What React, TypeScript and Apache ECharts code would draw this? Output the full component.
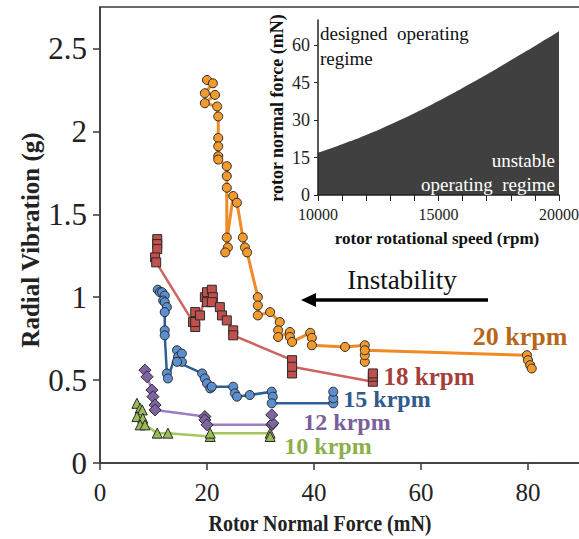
import React, { useEffect, useRef } from "react";
import * as echarts from "echarts";

const FONT = "'Liberation Serif', 'Times New Roman', serif";

// Main chart: rotor normal force (mN) vs radial vibration (g)
const xTicks = [0, 20, 40, 60, 80];
const yTicks = [0, 0.5, 1, 1.5, 2, 2.5];

const krpm20: [number, number][] = [
  [20.0, 2.31], [21.1, 2.29], [19.6, 2.23], [21.5, 2.22], [19.6, 2.17], [21.9, 2.15],
  [22.1, 2.09], [22.1, 1.96], [22.1, 1.91], [22.1, 1.85], [22.1, 1.83],
  [23.7, 1.79], [23.7, 1.73], [23.7, 1.66], [23.7, 1.36], [23.9, 1.30], [23.4, 1.27],
  [24.9, 1.61], [25.6, 1.57], [26.7, 1.36], [27.1, 1.30], [27.5, 1.27],
  [29.5, 1.00], [29.5, 0.95], [29.5, 0.89], [31.8, 0.91], [33.6, 0.85], [33.3, 0.80],
  [33.3, 0.76], [35.5, 0.79], [35.5, 0.76], [35.9, 0.73], [39.3, 0.785], [39.6, 0.755],
  [39.6, 0.71], [45.8, 0.70], [49.5, 0.71], [49.5, 0.61], [49.5, 0.65], [49.5, 0.68],
  [79.8, 0.65], [80.0, 0.62], [80.4, 0.59], [80.7, 0.57],
];

const krpm18: [number, number][] = [
  [10.7, 1.35], [10.7, 1.32], [10.7, 1.29], [10.3, 1.24], [10.5, 1.21],
  [17.4, 0.85], [17.8, 0.82], [17.8, 0.85], [17.8, 0.91], [18.7, 0.89],
  [19.6, 1.00], [20.0, 0.97], [20.0, 1.03], [20.9, 1.045], [21.1, 1.00], [20.9, 0.97],
  [22.4, 0.94], [22.8, 0.89], [23.7, 0.86], [24.9, 0.80], [24.9, 0.77],
  [35.9, 0.62], [35.9, 0.54], [35.9, 0.58],
  [51.0, 0.49], [51.0, 0.52], [51.0, 0.54],
];

const krpm15: [number, number][] = [
  [10.8, 1.045], [11.2, 1.03], [11.6, 1.03], [12.1, 1.01], [11.8, 0.98], [12.1, 0.97],
  [12.5, 0.94], [12.1, 0.91], [12.1, 0.80], [12.1, 0.77], [12.5, 0.54], [12.7, 0.51],
  [14.4, 0.68], [14.6, 0.64], [15.3, 0.66], [15.3, 0.61], [14.4, 0.61],
  [19.1, 0.54], [19.6, 0.51], [20.0, 0.48], [20.6, 0.45], [20.9, 0.46],
  [24.9, 0.46], [25.2, 0.42], [25.6, 0.40], [28.0, 0.41],
  [32.1, 0.43], [32.3, 0.40], [32.1, 0.36],
  [43.6, 0.36], [43.6, 0.39], [43.6, 0.43],
];

const krpm12: [number, number][] = [
  [8.4, 0.56], [8.8, 0.52], [9.7, 0.44], [9.9, 0.40], [10.3, 0.35], [10.3, 0.32],
  [19.6, 0.28], [19.6, 0.26], [20.0, 0.23],
  [32.1, 0.23], [32.3, 0.24], [32.1, 0.29],
];

const krpm10: [number, number][] = [
  [6.9, 0.36], [7.5, 0.33], [7.9, 0.32], [6.9, 0.28], [8.0, 0.27], [7.5, 0.23], [8.4, 0.23],
  [10.7, 0.18], [12.7, 0.18], [20.6, 0.16], [20.6, 0.18], [31.8, 0.18], [31.8, 0.16],
];

// Inset: stability boundary, rotor normal force (mN) vs rotational speed (rpm)
const insetSpeed = [10000, 11000, 12000, 13000, 14000, 15000, 16000, 17000, 18000, 19000, 20000];
const insetForce = [16.9, 20.3, 24.0, 28.2, 32.7, 37.6, 42.8, 48.2, 53.9, 59.6, 65.5];
const insetXLabels = [10000, 15000, 20000];
const insetYLabels = [0, 15, 30, 45, 60];

const labelText = (
  text: string, x: number, y: number, fill: string, size: number,
  opts: { bold?: boolean; align?: string; rotation?: number; sx?: number; sy?: number } = {}
) => ({
  type: "text",
  x,
  y,
  rotation: opts.rotation || 0,
  scaleX: opts.sx || 1,
  scaleY: opts.sy || 1,
  z: 20,
  style: {
    text,
    fill,
    fontSize: size,
    fontFamily: FONT,
    fontWeight: opts.bold ? "bold" : "normal",
    align: opts.align || "center",
    verticalAlign: "middle",
  },
});

export default function App() {
  const ref = useRef<HTMLDivElement>(null);
  useEffect(() => {
    if (!ref.current) return;
    const chart = echarts.init(ref.current, null, { renderer: "svg" });
    const axisLine = { show: true, lineStyle: { color: "#3a3a3a", width: 1.5 } };
    const mk = (
      name: string, data: [number, number][], symbol: string, size: number,
      fill: string, line: string, lw: number
    ) => ({
      name,
      type: "line",
      xAxisIndex: 0,
      yAxisIndex: 0,
      data,
      symbol,
      symbolSize: size,
      showAllSymbol: true,
      lineStyle: { color: line, width: lw },
      itemStyle: { color: fill, borderColor: "#2a2a2a", borderWidth: 1 },
      z: 3,
    });
    chart.setOption({
      animation: false,
      backgroundColor: "#ffffff",
      grid: [
        {
          left: 100, top: 7, width: 481.5, height: 456, show: true,
          borderColor: "#3a3a3a", borderWidth: 1.5, outerBoundsMode: "none", containLabel: false,
        },
        {
          left: 318, top: 20, width: 241, height: 175, show: true, backgroundColor: "#ffffff",
          borderWidth: 0, outerBoundsMode: "none", containLabel: false,
        },
      ],
      xAxis: [
        {
          gridIndex: 0, type: "value", min: 0, max: 90, interval: 20,
          axisLine,
          axisTick: { show: true, length: 7, customValues: xTicks, lineStyle: { color: "#3a3a3a", width: 1.5 } },
          axisLabel: { customValues: xTicks, fontSize: 25, color: "#222", fontFamily: FONT, margin: 17 },
          splitLine: { show: false },
        },
        {
          gridIndex: 1, type: "value", min: 10000, max: 20000, interval: 1000,
          axisLine: { show: true, lineStyle: { color: "#222", width: 1.5 } },
          axisTick: { show: true, length: 6, lineStyle: { color: "#222", width: 1 } },
          axisLabel: {
            customValues: insetXLabels, fontSize: 16, color: "#222", fontFamily: FONT, margin: 11,
            formatter: (v: number) => String(v),
          },
          splitLine: { show: false },
          z: 10,
        },
      ],
      yAxis: [
        {
          gridIndex: 0, type: "value", min: 0, max: 2.75, interval: 0.5,
          axisLine,
          axisTick: { show: true, length: 7, customValues: yTicks, lineStyle: { color: "#3a3a3a", width: 1.5 } },
          axisLabel: { customValues: yTicks, fontSize: 31, color: "#222", fontFamily: FONT, margin: 13 },
          splitLine: { show: false },
        },
        {
          gridIndex: 1, type: "value", min: 0, max: 70, interval: 15,
          axisLine: { show: true, lineStyle: { color: "#222", width: 1.5 } },
          axisTick: { show: true, length: 4, customValues: insetYLabels, lineStyle: { color: "#222", width: 1 } },
          axisLabel: { customValues: insetYLabels, fontSize: 18, color: "#222", fontFamily: FONT, margin: 8 },
          splitLine: { show: false },
          z: 10,
        },
      ],
      series: [
        mk("10 krpm", krpm10, "triangle", 10, "#9bbb59", "#a3c760", 2.5),
        mk("12 krpm", krpm12, "diamond", 12, "#8064a2", "#9b80c0", 2.5),
        mk("15 krpm", krpm15, "circle", 9, "#5b8fd0", "#2e5f94", 2.5),
        mk("18 krpm", krpm18, "rect", 9, "#c0504d", "#cf6360", 2.5),
        mk("20 krpm", krpm20, "circle", 9, "#f39a2e", "#f08a24", 3),
        {
          name: "boundary",
          type: "line",
          xAxisIndex: 1,
          yAxisIndex: 1,
          data: insetSpeed.map((s, i) => [s, insetForce[i]]),
          smooth: true,
          symbol: "none",
          lineStyle: { width: 0, color: "#404040" },
          areaStyle: { color: "#404040", opacity: 1 },
          z: 5,
        },
      ],
      graphic: [
        labelText("Radial Vibration (g)", 30, 240, "#222", 25, { bold: true, rotation: Math.PI / 2 }),
        labelText("Rotor Normal Force (mN)", 320, 523, "#222", 20, { bold: true, sy: 1.2 }),
        labelText("Instability", 402, 280, "#111", 27),
        {
          type: "line", z: 20,
          shape: { x1: 488, y1: 300, x2: 312, y2: 300 },
          style: { stroke: "#000", lineWidth: 3.5 },
        },
        {
          type: "polygon", z: 20,
          shape: { points: [[301, 300], [316, 293], [316, 307]] },
          style: { fill: "#000" },
        },
        labelText("20 krpm", 520, 336, "#b8661a", 26, { bold: true }),
        labelText("18 krpm", 429, 376, "#a4403c", 25, { bold: true }),
        labelText("15 krpm", 387, 399, "#2f5b8d", 24, { bold: true }),
        labelText("12 krpm", 347, 422, "#7b5f9b", 24, { bold: true }),
        labelText("10 krpm", 328, 446, "#8caf4c", 24, { bold: true }),
        labelText("rotor normal force (mN)", 277, 108, "#111", 18, { bold: true, rotation: Math.PI / 2 }),
        labelText("rotor rotational speed (rpm)", 437, 238, "#111", 17, { bold: true }),
        labelText("designed  operating", 320, 33, "#111", 19, { align: "left" }),
        labelText("regime", 320, 58, "#111", 19, { align: "left" }),
        labelText("unstable", 555, 160, "#ffffff", 19, { align: "right" }),
        labelText("operating  regime", 555, 184, "#ffffff", 19, { align: "right" }),
      ],
    });
    return () => chart.dispose();
  }, []);
  return (
    <div
      ref={ref}
      style={{ position: "fixed", left: 0, top: 0, width: 579, height: 539, background: "#fff" }}
    />
  );
}
